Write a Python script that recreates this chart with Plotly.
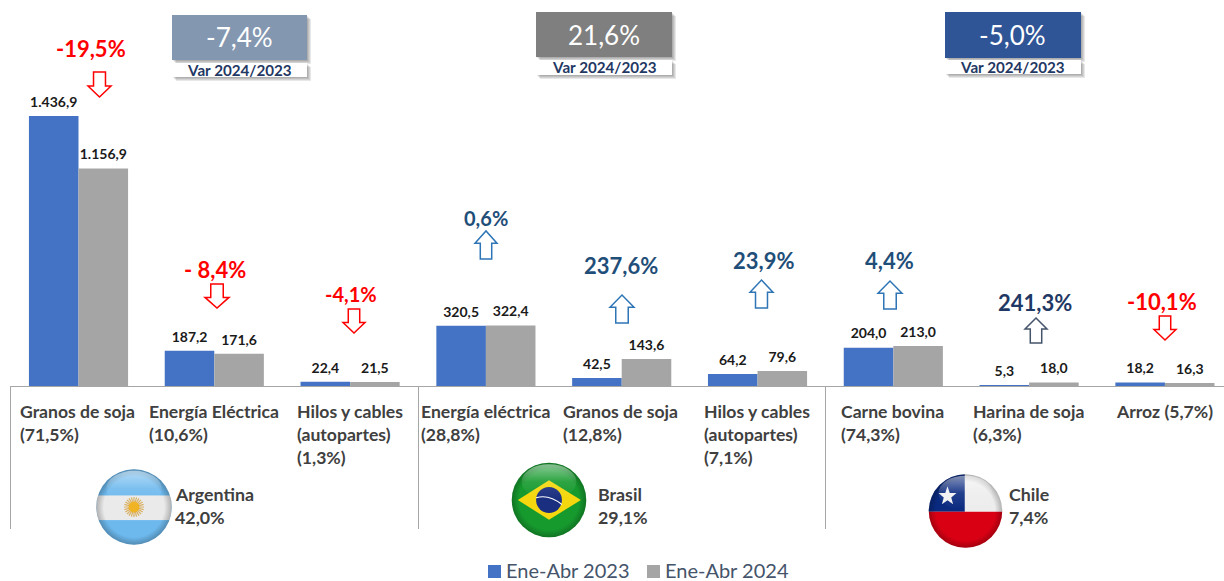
import base64
import plotly.graph_objects as go

W, H = 1224, 581
FONT = "Lato"

categories = ["Granos de soja", "Energía Eléctrica", "Hilos y cables (a)", "Energía eléctrica", "Granos de soja (b)",
              "Hilos y cables (b)", "Carne bovina", "Harina de soja", "Arroz"]
category_lines = [["Granos de soja", "(71,5%)"], ["Energía Eléctrica", "(10,6%)"], ["Hilos y cables", "(autopartes)", "(1,3%)"],
                  ["Energía eléctrica", "(28,8%)"], ["Granos de soja", "(12,8%)"], ["Hilos y cables", "(autopartes)", "(7,1%)"],
                  ["Carne bovina", "(74,3%)"], ["Harina de soja", "(6,3%)"], ["Arroz (5,7%)"]]
values_2023 = [1436.9, 187.2, 22.4, 320.5, 42.5, 64.2, 204.0, 5.3, 18.2]
values_2024 = [1156.9, 171.6, 21.5, 322.4, 143.6, 79.6, 213.0, 18.0, 16.3]
labels_2023 = ["1.436,9", "187,2", "22,4", "320,5", "42,5", "64,2", "204,0", "5,3", "18,2"]
labels_2024 = ["1.156,9", "171,6", "21,5", "322,4", "143,6", "79,6", "213,0", "18,0", "16,3"]
variation_labels = ["-19,5%", "- 8,4%", "-4,1%", "0,6%", "237,6%", "23,9%", "4,4%", "241,3%", "-10,1%"]
countries = ["Argentina", "Brasil", "Chile"]
country_shares = ["42,0%", "29,1%", "7,4%"]
country_variation = ["-7,4%", "21,6%", "-5,0%"]
series_names = ["Ene-Abr 2023", "Ene-Abr 2024"]

# layout helpers (pixel positions in the 1224x581 frame)
def px(x): return x / W
def py(y): return 1 - y / H

shapes, annotations, images = [], [], []

def rect(x0, y0, x1, y1, fill, opacity=1):
    shapes.append(dict(type="rect", xref="paper", yref="paper", x0=px(x0), x1=px(x1), y0=py(y0), y1=py(y1),
                       fillcolor=fill, opacity=opacity, line=dict(width=0)))

def line(x0, y0, x1, y1, color="#A6A6A6", width=1):
    shapes.append(dict(type="line", xref="paper", yref="paper", x0=px(x0), x1=px(x1), y0=py(y0), y1=py(y1),
                       line=dict(color=color, width=width)))

def text(x, y, s, size, color, anchor="left", bold=True):
    annotations.append(dict(xref="paper", yref="paper", x=px(x), y=py(y), text=f"<b>{s}</b>" if bold else s,
                            showarrow=False, xanchor=anchor, yanchor="middle", borderpad=0,
                            font=dict(family=FONT, size=size, color=color)))

def arrow(x0, y0, x1, y1, color, down):
    cx = (x0 + x1) / 2
    sw = (x1 - x0) * 0.26
    if down:
        ym = y0 + (y1 - y0) * 0.56
        pts = [(cx - sw, y0), (cx + sw, y0), (cx + sw, ym), (x1, ym), (cx, y1), (x0, ym), (cx - sw, ym)]
    else:
        ym = y1 - (y1 - y0) * 0.56
        pts = [(cx - sw, y1), (cx + sw, y1), (cx + sw, ym), (x1, ym), (cx, y0), (x0, ym), (cx - sw, ym)]
    path = "M " + " L ".join(f"{px(a):.5f},{py(b):.5f}" for a, b in pts) + " Z"
    shapes.append(dict(type="path", xref="paper", yref="paper", path=path, line=dict(color=color, width=1.5),
                       fillcolor="rgba(255,255,255,0)"))

# axis and dividers
line(10, 386.5, W, 386.5)
for xd in (10.5, 418.5, 825.5):
    line(xd, 386, xd, 529)

# category labels
label_x = [19, 148, 296, 420, 562, 703, 840, 972, 1115]
for lx, lines in zip(label_x, category_lines):
    for i, s in enumerate(lines):
        text(lx, 411 + 23 * i, s, 17.6, "#404040")

# variation labels and arrows
RED, BLUE, NAVY = "#FF0000", "#2E75B6", "#1F3864"
var_pos = [(91, 49, 22, RED), (215, 269, 22, RED), (351, 294, 20, RED), (486, 218, 20, "#1F4E79"),
           (621, 266, 22, "#1F4E79"), (763, 261, 22, "#1F4E79"), (889, 261, 22, "#1F4E79"),
           (1035, 302, 22, NAVY), (1162, 301, 22, RED)]
for (x, y, size, c), s in zip(var_pos, variation_labels):
    text(x, y, s, size, c, "center")
arrow_pos = [(88, 72, 111, 97, RED, True), (205, 284, 229, 308, RED, True), (343, 309, 365, 333, RED, True),
             (475, 231, 497, 259, BLUE, False), (610, 295, 634, 323, BLUE, False), (750, 280, 773, 308, BLUE, False),
             (878, 281, 902, 309, BLUE, False), (1025, 318, 1047, 343, "#44546A", False), (1154, 316, 1176, 340, RED, True)]
for a in arrow_pos:
    arrow(*a)

# variation boxes with soft shadows
box_pos = [(172, 15, 307, 60, 63, 77, "#8497B0"), (536, 12, 672, 57, 60, 75, "#7F7F7F"), (945, 12, 1081, 58, 60, 74, "#2F5597")]
for (x0, y0, x1, y1, ly0, ly1, c), s in zip(box_pos, country_variation):
    for k in (4, 3, 2, 1):
        rect(x0 + k, y0 + k, x1 + k, y1 + k, "#000000", 0.09)
        rect(x0 + k, ly0 + k, x1 + k, ly1 + k, "#000000", 0.09)
    rect(x0, y0, x1, y1, c)
    rect(x0, ly0, x1, ly1, "#FFFFFF")
    text((x0 + x1) / 2, (y0 + y1) / 2, s, 26, "#FFFFFF", "center", bold=False)
    text((x0 + x1) / 2, (ly0 + ly1) / 2, "Var 2024/2023", 15.2, "#1F3864", "center")

# flags
GLOSS = ('<defs><linearGradient id="g" x1="0" y1="0" x2="0" y2="1"><stop offset="0" stop-color="#fff" stop-opacity=".5"/>'
         '<stop offset=".5" stop-color="#fff" stop-opacity=".1"/><stop offset="1" stop-color="#fff" stop-opacity="0"/></linearGradient>'
         '<radialGradient id="e" cx=".5" cy=".5" r=".5"><stop offset=".8" stop-color="#000" stop-opacity="0"/>'
         '<stop offset="1" stop-color="#000" stop-opacity=".25"/></radialGradient>'
         '<clipPath id="c"><circle cx="50" cy="50" r="49"/></clipPath></defs>')
TOP = '<circle cx="50" cy="50" r="49" fill="url(#e)"/><ellipse cx="50" cy="26" rx="36" ry="23" fill="url(#g)"/>'
def svg(body):
    s = f'<svg xmlns="http://www.w3.org/2000/svg" viewBox="0 0 100 100">{GLOSS}<g clip-path="url(#c)">{body}</g>{TOP}</svg>'
    return "data:image/svg+xml;base64," + base64.b64encode(s.encode()).decode()

rays = "".join(f'<line x1="50" y1="50" x2="50" y2="37" stroke="#D9B063" stroke-width="1.6" transform="rotate({a} 50 50)"/>' for a in range(0, 360, 15))
arg = svg('<rect width="100" height="100" fill="#6DB9EE"/><rect y="35" width="100" height="32" fill="#EAEAEA"/>' + rays +
          '<circle cx="50" cy="50" r="7" fill="#F0B323"/>')
bra = svg('<rect width="100" height="100" fill="#169A2E"/><path d="M9 50 L50 24 L92 50 L50 76 Z" fill="#F4D70E"/>'
          '<circle cx="50" cy="50" r="17" fill="#1B2F80"/><path d="M33 47 Q50 42 67 56" stroke="#fff" stroke-width="1.5" fill="none"/>')
chi = svg('<rect width="100" height="51" fill="#EDEDED"/><rect width="49" height="51" fill="#0A2A80"/>'
          '<rect y="51" width="100" height="49" fill="#DA0014"/>'
          '<path d="M26 17 L29 26 L38 26 L31 32 L33.5 41 L26 35.5 L18.5 41 L21 32 L14 26 L23 26 Z" fill="#F2F2F2"/>')
flags = [(arg, 134, 507, 38.5), (bra, 549, 500, 38), (chi, 965.5, 511, 37.5)]
for src, cx, cy, r in flags:
    images.append(dict(source=src, xref="paper", yref="paper", x=px(cx - r), y=py(cy - r), sizex=2 * r / W, sizey=2 * r / H,
                       xanchor="left", yanchor="top", sizing="stretch", layer="above"))

country_pos = [(174, 494, 517), (597, 494, 517), (1008, 494, 517)]
for (x, y0, y1), name, share in zip(country_pos, countries, country_shares):
    text(x, y0, name, 17.8, "#404040")
    text(x, y1, share, 17.8, "#404040")

SERIES_COLORS = ["#4472C4", "#A5A5A5"]

# legend: swatch and label placed as in the reference, whose gap is narrower than the native legend allows
legend_pos = [(488, 505), (647, 664)]
for (sx, tx), name, color in zip(legend_pos, series_names, SERIES_COLORS):
    rect(sx, 565, sx + 13, 578, color)
    text(tx, 570, name, 20, "#44546A", bold=False)

fig = go.Figure()
for name, vals, labs, color in zip(series_names, [values_2023, values_2024], [labels_2023, labels_2024], SERIES_COLORS):
    fig.add_bar(x=categories, y=vals, name=name, marker=dict(color=color, line=dict(width=0)),
                text=[f"<span style='font-size:14px'><b>{t}</b></span><br> " for t in labs],
                textposition="outside", textangle=0, cliponaxis=False,
                textfont=dict(family=FONT, size=4, color="#1A1A1A"))

fig.update_layout(
    width=W, height=H, margin=dict(l=0, r=0, t=0, b=0, pad=0, autoexpand=False), autosize=False,
    paper_bgcolor="white", plot_bgcolor="white", barmode="group", bargap=0.27, bargroupgap=0,
    xaxis=dict(domain=[10.6 / W, 1], type="category", categoryorder="array", categoryarray=categories,
               range=[-0.5, 8.435], showticklabels=False, showgrid=False, zeroline=False, showline=False, ticks=""),
    yaxis=dict(domain=[1 - 386 / H, 1], range=[0, 2054], visible=False, fixedrange=True),
    shapes=shapes, annotations=annotations, images=images, showlegend=False,
    font=dict(family=FONT),
)
fig.write_html("out.html", post_script="document.body.style.margin='0';document.body.style.overflow='hidden';",
               config=dict(displayModeBar=False))
